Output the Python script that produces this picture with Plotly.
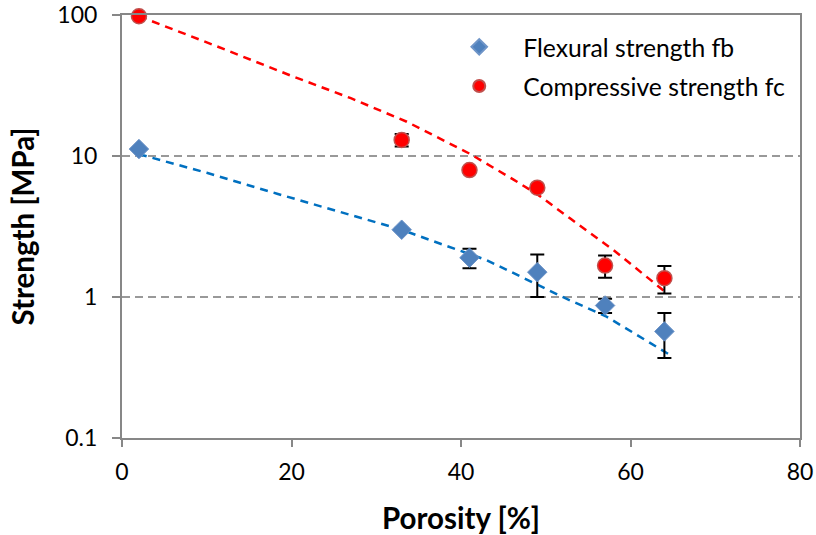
import plotly.graph_objects as go

# Measured data
porosity = [2, 33, 41, 49, 57, 64]
fb = [11.2, 3.0, 1.9, 1.5, 0.87, 0.57]
fb_err = [0, 0, 0.3, 0.5, 0.1, 0.2]
fc = [98, 13.0, 7.95, 5.96, 1.67, 1.36]
fc_err = [0, 1.3, 0, 0, 0.3, 0.3]

# Trend lines
fb_trend_x = [2, 10, 18.3, 28.5, 33, 36.3, 43, 52.3, 57.1, 64.6]
fb_trend_y = [10.3, 7.6, 5.4, 3.56, 3.0, 2.54, 1.83, 0.98, 0.73, 0.39]
fc_trend_x = [2, 10, 20, 27, 33.6, 41, 46.2, 49.1, 52.9, 58, 64]
fc_trend_y = [98, 64, 37, 25.7, 17.5, 10.4, 6.8, 5.3, 3.6, 2.15, 1.1]

x_ticks = [0, 20, 40, 60, 80]
y_ticks = [0.1, 1, 10, 100]
y_tick_labels = ["0.1", "1", "10", "100"]

FONT = "Lato"
AX = "#878787"

fig = go.Figure()

fig.add_trace(go.Scatter(
    x=fb_trend_x, y=fb_trend_y, mode="lines", showlegend=False,
    line=dict(color="#0070C0", width=2.5, dash="8px,6px"), hoverinfo="skip"))
fig.add_trace(go.Scatter(
    x=fc_trend_x, y=fc_trend_y, mode="lines", showlegend=False,
    line=dict(color="#FF0000", width=2.5, dash="8px,6px"), hoverinfo="skip"))

fig.add_trace(go.Scatter(
    x=porosity, y=fb, mode="markers", name="Flexural strength fb",
    cliponaxis=False, legendgroup="fb",
    marker=dict(symbol="diamond", size=15, color="#4F81BD",
                line=dict(color="#6F95C8", width=1)),
    error_y=dict(type="data", array=fb_err, arrayminus=fb_err,
                 color="black", thickness=2, width=7)))
fig.add_trace(go.Scatter(
    x=porosity, y=fc, mode="markers", name="Compressive strength fc",
    cliponaxis=False, legendgroup="fc",
    marker=dict(symbol="circle", size=15, color="#FF0000",
                line=dict(color="#C0504D", width=1.5)),
    error_y=dict(type="data", array=fc_err, arrayminus=fc_err,
                 color="black", thickness=2, width=7)))

fig.update_layout(
    width=816, height=535,
    margin=dict(l=122, r=16, t=15, b=97),
    paper_bgcolor="white", plot_bgcolor="white",
    font=dict(family=FONT, size=23, color="black"),
    legend=dict(x=0.462, y=0.978, xanchor="left", yanchor="top",
                font=dict(family=FONT, size=24.7, color="black"),
                bgcolor="rgba(0,0,0,0)", itemsizing="constant",
                itemwidth=78, traceorder="grouped", tracegroupgap=4),
    xaxis=dict(
        range=[0, 80], tickvals=x_ticks, ticks="outside", ticklen=7,
        tickwidth=2, tickcolor=AX, showline=True, linecolor=AX, linewidth=2,
        mirror=True, showgrid=False, zeroline=False, automargin=False,
        ticklabelstandoff=5, ticklabeloverflow="allow",
        tickfont=dict(family=FONT, size=23),
        title=dict(text="<b>Porosity [%]</b>", font=dict(family=FONT, size=29.5),
                   standoff=26)),
    yaxis=dict(
        type="log", range=[-1, 2], tickvals=y_ticks, ticktext=y_tick_labels,
        ticks="outside", ticklen=8, tickwidth=2, tickcolor=AX,
        showline=True, linecolor=AX, linewidth=2, mirror=True,
        showgrid=True, gridcolor="#999999", gridwidth=2, griddash="8px,5px",
        zeroline=False, automargin=False, ticklabelstandoff=10,
        ticklabeloverflow="allow",
        tickfont=dict(family=FONT, size=23),
        title=dict(text="<b>Strength [MPa]</b>", font=dict(family=FONT, size=29.5),
                   standoff=14)),
)

fig.write_html(
    "out.html",
    config={"displayModeBar": False},
    post_script="document.body.style.margin='0';document.body.style.overflow='hidden';",
)
